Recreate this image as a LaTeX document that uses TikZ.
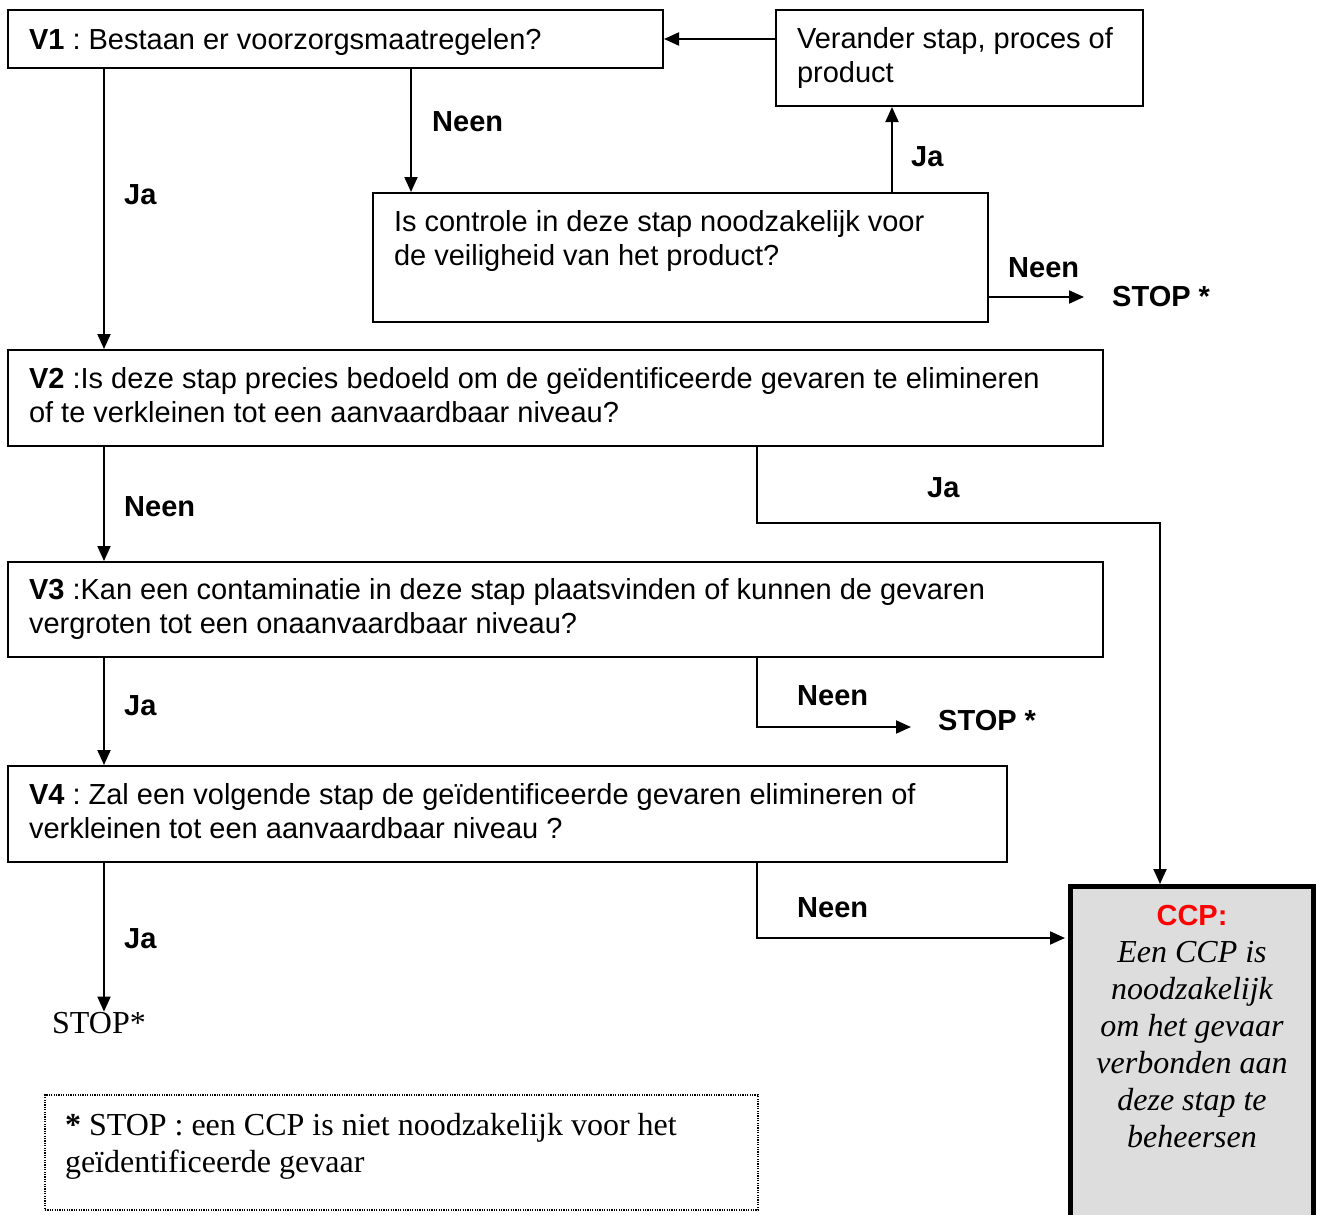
\documentclass[tikz,border=0pt]{standalone}
\usepackage{fontspec}
\setmainfont{Liberation Serif}
\setsansfont{Liberation Sans}
\usetikzlibrary{arrows.meta}
\definecolor{ccpGray}{HTML}{DDDDDD}
\definecolor{ccpRed}{HTML}{FF0000}
\frenchspacing

\begin{document}
\begin{tikzpicture}[x=1pt, y=-1pt,
    qBox/.style={draw, line width=2pt, anchor=north west, align=flush left, inner xsep=21pt, inner ysep=0pt, font=\sffamily\fontsize{29}{34}\selectfont},
    ccpBox/.style={draw, line width=5pt, fill=ccpGray, anchor=north west, align=flush center, inner sep=0pt, font=\rmfamily\itshape\fontsize{32}{37}\selectfont},
    noteBox/.style={draw, line width=1.2pt, dash pattern=on 1.2pt off 1.2pt, anchor=north west, align=flush left, inner xsep=20pt, inner ysep=0pt, font=\rmfamily\fontsize{32}{37}\selectfont},
    lbl/.style={anchor=west, inner sep=0pt, font=\sffamily\bfseries\fontsize{29}{34}\selectfont},
    flow/.style={line width=2pt, -{Triangle[length=15pt, width=13pt]}}]
    \useasboundingbox (0,0) rectangle (1320,1215);
    \clip (0,0) rectangle (1320,1215);

    % columns of the connectors
    \coordinate (colA) at (104,0);
    \coordinate (colB) at (411,0);
    \coordinate (colC) at (757,0);
    \coordinate (colD) at (892,0);
    \coordinate (colE) at (1160,0);

    \node[qBox, text width=613pt, text height=39.5pt, text depth=18.5pt] (v1) at (7,9) {\textbf{V1} : Bestaan er voorzorgsmaatregelen?};
    \node[qBox, text width=325pt, text height=38.5pt, text depth=57.5pt] (chg) at (775,9) {Verander stap, proces of\\product};
    \node[qBox, text width=573pt, text height=38.5pt, text depth=90.5pt] (ctrl) at (372,192) {Is controle in deze stap noodzakelijk voor\\de veiligheid van het product?};
    \node[qBox, text width=1053pt, text height=38.5pt, text depth=57.5pt] (v2) at (7,349) {\textbf{V2} :Is deze stap precies bedoeld om de geïdentificeerde gevaren te elimineren\\of te verkleinen tot een aanvaardbaar niveau?};
    \node[qBox, text width=1053pt, text height=37.5pt, text depth=57.5pt] (v3) at (7,561) {\textbf{V3} :Kan een contaminatie in deze stap plaatsvinden of kunnen de gevaren\\vergroten tot een onaanvaardbaar niveau?};
    \node[qBox, text width=957pt, text height=38.5pt, text depth=57.5pt] (v4) at (7,765) {\textbf{V4} : Zal een volgende stap de geïdentificeerde gevaren elimineren of\\verkleinen tot een aanvaardbaar niveau ?};
    \node[ccpBox, text width=243pt, text height=39pt, text depth=320pt] (ccp) at (1068,884) {{\sffamily\upshape\bfseries\fontsize{29}{34}\selectfont\color{ccpRed}CCP:}\\Een CCP is\\noodzakelijk\\om het gevaar\\verbonden aan\\deze stap te\\beheersen};
    \node[noteBox, text width=673pt, text height=40.5pt, text depth=74.5pt] (note) at (44.4,1094.4) {\textbf{*} STOP : een CCP is niet noodzakelijk voor het\\geïdentificeerde gevaar};
    \node[anchor=base west, inner sep=0pt, font=\rmfamily\fontsize{32}{37}\selectfont] (stop3) at (52,1033) {STOP*};

    % answers
    \node[lbl] (neen1) at (432,122) {Neen};
    \node[lbl] (ja1) at (124,195) {Ja};
    \node[lbl] (ja2) at (911,157) {Ja};
    \node[lbl] (neen2) at (1008,268) {Neen};
    \node[lbl] (stop1) at (1112,297) {STOP *};
    \node[lbl] (neen3) at (124,507) {Neen};
    \node[lbl] (ja3) at (927,488) {Ja};
    \node[lbl] (ja4) at (124,706) {Ja};
    \node[lbl] (neen4) at (797,696) {Neen};
    \node[lbl] (stop2) at (938,721) {STOP *};
    \node[lbl] (ja5) at (124,939) {Ja};
    \node[lbl] (neen5) at (797,908) {Neen};

    \draw[flow] (chg.west |- v1.east) -- (v1.east);
    \draw[flow] (v1.south -| colB) -- (ctrl.north -| colB);
    \draw[flow] (v1.south -| colA) -- (v2.north -| colA);
    \draw[flow] (ctrl.north -| colD) -- (chg.south -| colD);
    \draw[flow] (ctrl.east |- stop1.west) -- ([xshift=-28pt]stop1.west);
    \draw[flow] (v2.south -| colA) -- (v3.north -| colA);
    \draw[flow] (v2.south -| colC) -- ++(0,76) -| (ccp.north -| colE);
    \draw[flow] (v3.south -| colA) -- (v4.north -| colA);
    \draw[flow] (v3.south -| colC) |- ([xshift=-27pt, yshift=-6pt]stop2.west);
    \draw[flow] (v4.south -| colA) -- (colA |- stop3.north);
    \draw[flow, shorten >=3pt] (v4.south -| colC) |- (ccp.west |- 0,938);
\end{tikzpicture}
\end{document}
